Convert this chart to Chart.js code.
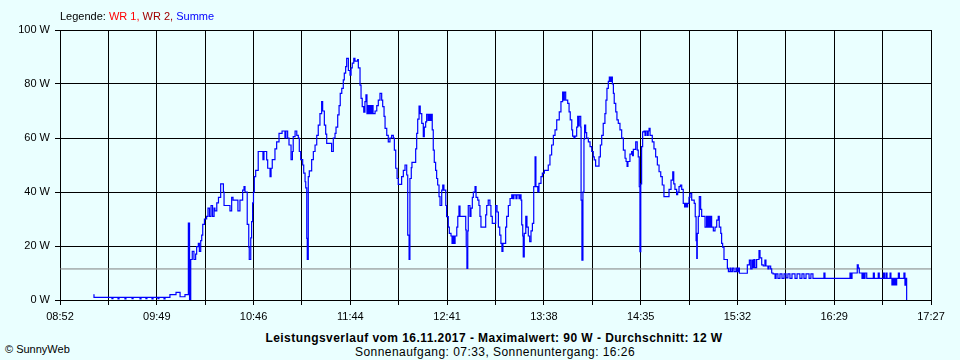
<!DOCTYPE html>
<html>
<head>
<meta charset="utf-8">
<script src="https://cdn.jsdelivr.net/npm/chart.js@4/dist/chart.umd.min.js"></script>
<style>
  html, body { margin: 0; padding: 0; background: #eaffff; }
  body { width: 960px; height: 360px; position: relative; overflow: hidden;
         font-family: "Liberation Sans", Arial, sans-serif; font-size: 11px; color: #000; }
  #chart { position: absolute; left: 0; top: 0; }
  .txt { position: absolute; white-space: nowrap; line-height: 14px; }
  #legend { left: 60px; top: 9px; }
  #title { left: 494px; top: 331px; transform: translateX(-50%); font-weight: bold; font-size: 12px; letter-spacing: 0.45px; }
  #sub { left: 495px; top: 345px; transform: translateX(-50%); font-size: 12px; letter-spacing: 0.45px; }
  #copy { left: 5px; top: 342px; }
</style>
</head>
<body>
<canvas id="chart" width="960" height="330"></canvas>
<div class="txt" id="legend">Legende: <span style="color:#ff0000">WR 1,</span> <span style="color:#a00000">WR 2,</span> <span style="color:#0000ff">Summe</span></div>
<div class="txt" id="title">Leistungsverlauf vom 16.11.2017 - Maximalwert: 90 W - Durchschnitt: 12 W</div>
<div class="txt" id="sub">Sonnenaufgang: 07:33, Sonnenuntergang: 16:26</div>
<div class="txt" id="copy">© SunnyWeb</div>
<script>
'use strict';

// x axis: minutes since midnight, 08:52 .. 17:27
const T_START = 532;
const T_END = 1047;
const TICK_LABELS = ['08:52', '09:49', '10:46', '11:44', '12:41', '13:38', '14:35', '15:32', '16:29', '17:27'];
const Y_MAX = 100;
const AVERAGE_W = 11.5;

// Summe (W) – sample times in minutes of day
const times = [
  551.7, 552.1, 562.7, 563.3, 566.3, 566.9, 570.4, 571.0, 574.6, 575.2,
  579.3, 579.9, 582.8, 583.4, 586.4, 587.0, 589.9, 590.5, 593.5, 594.1,
  597.0, 600.6, 603.0, 605.9, 607.9, 608.6, 609.3, 610.2, 611.2, 612.2,
  612.8, 613.8, 614.4, 615.2, 615.8, 616.4, 617.4, 618.7, 619.5, 620.4,
  621.3, 622.2, 623.1, 623.6, 624.7, 625.7, 627.0, 628.6, 629.0, 632.5,
  633.5, 634.3, 637.2, 638.4, 640.0, 640.8, 641.4, 642.7, 643.6, 643.9,
  644.8, 645.3, 645.9, 646.4, 646.9, 647.7, 649.2, 652.0, 652.6, 654.2,
  654.8, 656.2, 656.8, 657.5, 659.1, 660.1, 661.5, 663.3, 665.0, 665.6,
  666.6, 667.4, 668.6, 669.4, 669.9, 671.0, 672.0, 672.9, 673.5, 674.3,
  675.5, 676.1, 676.9, 677.3, 677.9, 678.2, 678.8, 679.4, 680.8, 681.8,
  682.8, 683.8, 684.7, 685.7, 686.7, 687.3, 688.3, 689.1, 689.7, 692.6,
  693.6, 694.6, 695.2, 696.2, 697.0, 697.7, 698.6, 699.5, 700.1, 700.9,
  701.5, 702.5, 703.5, 704.1, 704.8, 705.7, 706.4, 708.0, 708.4, 709.4,
  710.0, 710.7, 711.6, 712.3, 712.9, 713.5, 714.1, 714.7, 715.3, 715.9,
  716.5, 717.1, 718.3, 719.3, 720.2, 721.2, 722.2, 722.8, 723.6, 724.2,
  725.2, 726.1, 727.1, 728.1, 729.1, 729.7, 730.5, 731.3, 732.0, 734.0,
  735.0, 736.0, 737.0, 737.6, 738.4, 738.9, 739.7, 740.1, 742.3, 742.9,
  743.5, 744.3, 745.0, 745.9, 746.8, 747.4, 748.2, 748.8, 749.6, 750.2,
  750.8, 751.4, 752.1, 752.7, 753.3, 754.1, 754.7, 755.3, 756.1, 756.7,
  757.7, 758.3, 759.0, 760.1, 760.6, 761.6, 762.2, 763.2, 763.8, 764.4,
  765.0, 765.6, 766.6, 767.2, 767.9, 768.5, 771.9, 772.2, 772.6, 773.1,
  773.4, 774.4, 775.0, 775.8, 776.4, 777.4, 778.0, 779.0, 779.7, 780.3,
  780.9, 783.7, 784.3, 785.2, 786.2, 786.8, 787.6, 789.6, 790.4, 791.2,
  792.0, 792.7, 793.3, 793.9, 795.5, 796.1, 797.1, 798.1, 799.1, 799.8,
  800.4, 801.6, 802.2, 803.4, 804.0, 804.6, 805.0, 805.6, 805.9, 806.5,
  807.4, 808.1, 808.9, 809.7, 810.5, 811.3, 812.1, 812.9, 813.4, 814.5,
  815.2, 816.4, 817.2, 818.4, 820.7, 821.7, 822.7, 823.7, 824.7, 825.7,
  827.2, 828.2, 829.2, 829.7, 830.2, 831.0, 832.2, 833.0, 833.7, 834.6,
  835.1, 835.9, 836.5, 837.5, 838.1, 838.6, 839.0, 839.9, 840.1, 840.6,
  841.2, 841.8, 842.2, 842.8, 843.4, 844.4, 845.4, 846.4, 847.3, 847.9,
  848.7, 850.7, 851.5, 852.3, 853.2, 854.2, 854.8, 855.4, 856.2, 856.8,
  857.4, 857.9, 858.6, 859.2, 859.7, 860.6, 861.3, 862.1, 863.1, 864.1,
  865.1, 866.1, 866.7, 867.3, 867.8, 869.0, 870.0, 870.5, 871.0, 872.4,
  873.3, 873.9, 874.5, 874.9, 875.4, 875.9, 876.5, 877.3, 877.9, 878.5,
  879.4, 879.8, 880.3, 880.9, 882.2, 883.2, 884.2, 885.2, 886.2, 887.2,
  888.1, 889.1, 892.1, 893.3, 894.3, 894.9, 895.6, 896.6, 897.2, 898.0,
  898.8, 899.6, 900.5, 901.3, 901.8, 902.4, 903.1, 903.9, 904.5, 905.5,
  907.0, 907.6, 908.1, 908.5, 908.8, 909.4, 910.0, 910.8, 911.4, 913.4,
  914.3, 914.9, 915.4, 916.0, 916.6, 917.3, 918.3, 919.3, 920.3, 921.2,
  921.8, 922.7, 923.2, 923.8, 924.6, 926.6, 927.2, 928.2, 928.7, 929.6,
  930.5, 931.7, 932.3, 933.1, 933.7, 938.4, 939.6, 940.4, 941.2, 941.7,
  942.3, 942.9, 943.9, 945.3, 945.9, 946.9, 947.8, 948.8, 949.4, 950.6,
  951.2, 952.2, 952.8, 953.6, 954.8, 955.4, 956.5, 957.7, 958.9, 960.1,
  961.3, 962.4, 963.6, 964.8, 966.6, 967.8, 969.5, 970.7, 971.9, 973.1,
  974.9, 976.0, 977.2, 983.7, 984.3, 999.1, 999.7, 1000.3, 1003.4, 1004.0,
  1004.6, 1006.2, 1006.8, 1007.4, 1008.0, 1009.0, 1012.9, 1013.5, 1015.8, 1016.4,
  1018.8, 1019.5, 1020.4, 1021.0, 1022.8, 1023.3, 1023.9, 1024.5, 1025.1, 1025.7,
  1026.3, 1026.7, 1027.7, 1028.3, 1031.0, 1031.6, 1032.2, 1032.6,
];

const watts = [
  1.9, 1.0, 0.5, 1.0, 0.4, 1.0, 0.4, 1.0, 0.5, 1.0,
  0.4, 1.0, 0.5, 1.0, 0.4, 1.0, 0.5, 1.0, 0.4, 1.0,
  2.0, 2.8, 1.2, 2.0, 28.5, 0, 15, 18, 15, 17,
  19.8, 21, 18, 22, 24, 28, 30, 31, 34, 31,
  35, 31, 34, 33, 36, 38, 43, 40, 35, 33,
  38, 37, 33, 37, 40.7, 42, 40, 28, 19.6, 15,
  23, 29, 36, 40, 45.7, 48, 55, 52, 55, 51.9,
  48.8, 45.7, 48.8, 52, 56, 58.6, 61.7, 62.6, 60, 62.6,
  60, 57.4, 52, 55, 60.5, 62.6, 61, 60, 55, 52,
  50, 47, 43.8, 41.5, 22.8, 15, 45.7, 47.8, 52, 55,
  57.4, 61, 64.8, 69, 73.5, 70, 64.8, 61.4, 58, 55,
  60, 61.7, 64, 68.6, 72, 76.5, 78.4, 81.5, 84, 86.4,
  89.5, 85, 83.3, 86, 87.7, 89.5, 88.5, 89, 86, 79.6,
  74.7, 71.6, 69.6, 73.5, 76, 69, 72, 69, 72, 69,
  72, 69, 70, 72, 74, 76.5, 74, 71.6, 68, 63.6,
  61, 58.6, 60, 61, 60, 55.5, 48.8, 45, 42.8, 45.7,
  48, 50, 46.3, 24, 15, 45, 49, 51, 56, 61.7,
  67, 71.8, 69, 65.4, 60.5, 64, 66, 68.8, 66.5, 68.8,
  66.5, 68.8, 63, 55.5, 51, 48, 45, 42.6, 38.3, 35,
  40.7, 42.6, 40.7, 35, 30.9, 27, 24.7, 23.7, 21, 23.7,
  21, 23.7, 27, 31, 34.8, 31, 26, 19.8, 11.7, 25.6,
  35, 31, 34, 38, 40, 42, 38, 37, 35, 31,
  27, 31.5, 35, 37, 35, 31, 28.4, 35, 32.6, 27,
  24, 21, 18, 21, 27, 31, 35, 37.6, 38.9, 37.5,
  38.9, 37.5, 38.9, 37.5, 38.9, 37, 27.8, 23.7, 16, 24.7,
  31, 27, 23.7, 21.6, 25.6, 28.4, 42, 53, 42, 40,
  43.2, 45.7, 47, 48, 50, 53.7, 57.4, 61, 63, 66.7,
  69.7, 73.5, 77, 74, 77, 74, 72.8, 69.7, 66.7, 63,
  60.7, 60, 60.7, 64, 68, 64.5, 68, 64, 37, 14.8,
  40, 59.6, 64.8, 62, 60, 58.6, 56.8, 55, 53, 51.9,
  49.6, 53, 57.4, 61, 65.4, 69, 74, 78.4, 81, 82.6,
  81, 82.6, 80, 76.5, 72.8, 69.7, 66.7, 65.4, 63, 60,
  55.5, 52.5, 51.3, 49.5, 51.3, 54, 55, 53.5, 55.8, 58.6,
  55.5, 53, 42, 17.9, 43, 56.8, 62.3, 62.6, 61, 62.6,
  61, 62.6, 63.6, 61, 58.6, 56, 53, 50, 47.5, 45.7,
  42.6, 38.3, 41, 44.4, 47.5, 43, 41, 39, 40, 42,
  42.6, 41, 35.8, 34.5, 35.8, 34.5, 35.8, 38, 39.5, 37,
  35.8, 30.9, 22, 15.4, 24.7, 31, 38.3, 33.6, 31, 27,
  31, 27, 31, 27, 31, 27, 25.6, 27, 29.6, 31,
  27, 24.7, 21, 19.6, 15, 11.7, 10.5, 11.8, 10.5, 11.8,
  10.5, 11.8, 10.5, 11.8, 9.9, 13, 14.8, 11.5, 14.8, 12,
  15, 12, 15, 18.3, 15.6, 13, 12.6, 14.8, 12.6, 11.5,
  12.6, 11.5, 10, 9.7, 8, 9.7, 8, 9.7, 8, 9.7,
  8.2, 9.7, 8, 9.7, 8, 9.7, 8, 9.7, 8, 9.7,
  8, 9.7, 8, 10, 8, 10, 8, 10, 13, 11.8,
  10, 8, 10, 8, 10, 8, 10, 8, 10, 8,
  10, 8, 10, 8, 10, 8, 5.6, 8, 5.6, 8,
  5.6, 8, 10, 8, 10, 5.5, 8, 0,
];

function fmtTick(i) {
  return i % 2 === 0 ? TICK_LABELS[i / 2] : '';
}

const FONT = { family: '"Liberation Sans", Arial, sans-serif', size: 11 };

new Chart(document.getElementById('chart'), {
  type: 'line',
  data: {
    datasets: [
      {
        label: 'Summe',
        data: times.map((t, i) => ({ x: t, y: watts[i] })),
        borderColor: '#0000ff',
        borderWidth: 1.2,
        stepped: true,
        pointRadius: 0,
        fill: false,
        order: 1,
      },
      {
        label: 'Durchschnitt',
        data: [{ x: T_START, y: AVERAGE_W }, { x: T_END, y: AVERAGE_W }],
        borderColor: '#808080',
        borderWidth: 1,
        pointRadius: 0,
        fill: false,
        order: 2,
      },
    ],
  },
  options: {
    responsive: false,
    animation: false,
    layout: { padding: { top: 30, right: 29, left: 0, bottom: 0 } },
    plugins: { legend: { display: false }, tooltip: { enabled: false } },
    scales: {
      x: {
        type: 'linear',
        min: T_START,
        max: T_END,
        afterBuildTicks: (s) => {
          s.ticks = Array.from({ length: 19 }, (_, i) => ({ value: T_START + i * (T_END - T_START) / 18 }));
        },
        afterFit: (s) => { s.height = 30; },
        grid: { color: '#000', lineWidth: 1, tickLength: 5, drawTicks: true },
        border: { color: '#000', width: 1 },
        ticks: {
          autoSkip: false, maxRotation: 0, padding: 5, color: '#000', font: FONT,
          callback: (v, i) => fmtTick(i),
        },
      },
      y: {
        min: 0,
        max: Y_MAX,
        afterFit: (s) => { s.width = 60; },
        grid: { color: '#000', lineWidth: 1, tickLength: 5 },
        border: { color: '#000', width: 1 },
        ticks: { stepSize: 20, padding: 5, color: '#000', font: FONT, callback: (v) => v + ' W' },
      },
    },
  },
});
</script>
</body>
</html>
